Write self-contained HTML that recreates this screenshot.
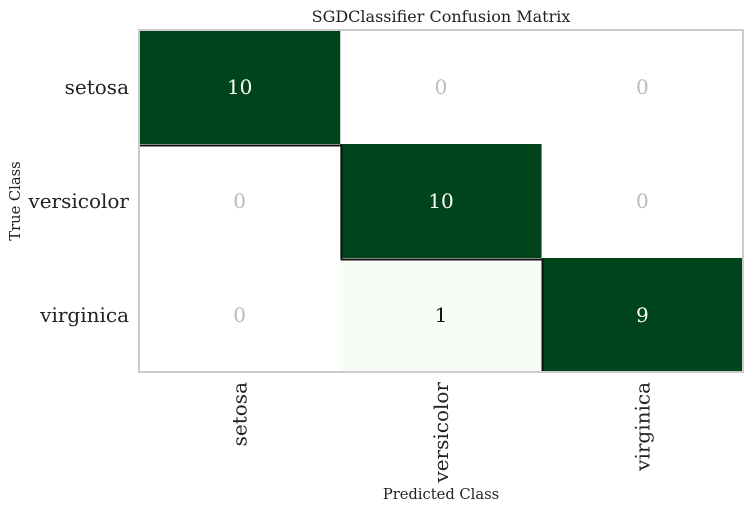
<!DOCTYPE html>
<html><head><meta charset="utf-8"><style>
body{margin:0;background:#fff;width:752px;height:512px;overflow:hidden}
text{font-family:"DejaVu Serif","Liberation Serif",serif}
</style></head><body>
<svg id="chart" width="752" height="512" xmlns="http://www.w3.org/2000/svg">
<text x="441" y="22" text-anchor="middle" font-size="16" fill="#222">SGDClassifier Confusion Matrix</text>
<text x="441" y="499" text-anchor="middle" font-size="14.7" fill="#222">Predicted Class</text>
<text transform="translate(20,201) rotate(-90)" text-anchor="middle" font-size="14.7" fill="#222">True Class</text>
<g id="cells"></g>
<g id="labels"></g>
<path d="M139.5 145.5 H341.5 V259.5 H542.5 V372" fill="none" stroke="#111" stroke-width="2"/>
<rect x="139" y="30" width="604" height="342" fill="none" stroke="#ccc" stroke-width="2"/>
</svg>
<script>
const classes=["setosa","versicolor","virginica"];
const matrix=[[10,0,0],[0,10,0],[0,1,9]];
const L=139,T=30,W=604,H=342;
const cw=W/classes.length,ch=H/classes.length;
const ns="http://www.w3.org/2000/svg";
const cells=document.getElementById('cells'),labels=document.getElementById('labels');
function color(t){
  if(t===0)return "#ffffff";
  if(t<0.5)return "#f7fcf5";
  return "#00441b";
}
matrix.forEach((row,r)=>{
  const sum=row.reduce((a,b)=>a+b,0)||1;
  row.forEach((v,c)=>{
  const t=v/sum;
  const x=L+c*cw,y=T+r*ch;
  const rect=document.createElementNS(ns,'rect');
  rect.setAttribute('x',x);rect.setAttribute('y',y);rect.setAttribute('width',cw);rect.setAttribute('height',ch);
  rect.setAttribute('fill',color(t));
  
  
  cells.appendChild(rect);
  const tx=document.createElementNS(ns,'text');
  tx.setAttribute('x',x+cw/2);tx.setAttribute('y',y+ch/2+7);
  tx.setAttribute('text-anchor','middle');tx.setAttribute('font-size','20');
  tx.setAttribute('fill',v===0?'#bbb':(t>0.5?'#fff':'#111'));
  tx.textContent=v;
  
  
  labels.appendChild(tx);
  });
});
classes.forEach((n,i)=>{
  const ty=document.createElementNS(ns,'text');
  ty.setAttribute('x',129);ty.setAttribute('y',T+i*ch+ch/2+7);
  ty.setAttribute('text-anchor','end');ty.setAttribute('font-size','20');ty.setAttribute('fill','#222');
  ty.textContent=n;
  
  
  labels.appendChild(ty);
  const tx=document.createElementNS(ns,'text');
  const cx=L+i*cw+cw/2+7;
  tx.setAttribute('transform',`translate(${cx},382) rotate(-90)`);
  tx.setAttribute('text-anchor','end');tx.setAttribute('font-size','20');tx.setAttribute('fill','#222');
  tx.textContent=n;
  
  
  labels.appendChild(tx);
});
</script>
</body></html>
